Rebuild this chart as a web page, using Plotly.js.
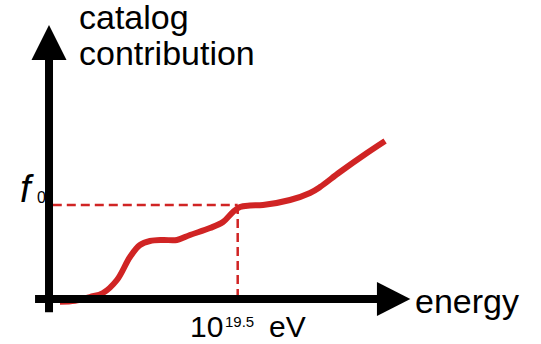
<!DOCTYPE html>
<html><head><meta charset="utf-8">
<script src="https://cdn.plot.ly/plotly-3.0.1.min.js"></script>
<style>html,body{margin:0;padding:0;background:#fff;}#chart{width:541px;height:344px;}</style>
</head><body><div id="chart"></div>
<script>
// Energy as log10(E / eV); contribution in units of f0
const logEnergy = [18.558, 18.638, 18.717, 18.786, 18.860, 18.929, 18.982, 19.035, 19.104, 19.178, 19.247, 19.353, 19.422, 19.475, 19.512, 19.565, 19.634, 19.777, 19.883, 19.936, 20.042, 20.185, 20.281];
const contribution = [-0.03, -0.02, 0.021, 0.064, 0.202, 0.447, 0.574, 0.617, 0.628, 0.628, 0.681, 0.755, 0.819, 0.926, 0.979, 0.995, 1.0, 1.053, 1.128, 1.191, 1.351, 1.553, 1.681];
const markerLogE = 19.5;
const f0Value = 1;
const yLabelLines = ['catalog', 'contribution'];
const xLabel = 'energy';
const markerLabel = ['10', '19.5', 'eV'];

const W = 541, H = 344;
const xr = [18.2403, 21.1073], yr = [-0.4787, 3.1809];
const RED = '#d02424';
const FONT = 'Liberation Sans, Arial, sans-serif';
const px = p => p / W, py = p => 1 - p / H;

function txt(text, left, baseline, size, extra) {
  return Object.assign({
    xref: 'paper', yref: 'paper', x: px(left), y: py(baseline - 0.35 * size),
    xanchor: 'left', yanchor: 'middle', showarrow: false, borderpad: 0,
    text: text, font: {family: FONT, size: size, color: '#000'}
  }, extra || {});
}

const axX0 = 18.5, axY0 = 0;
const shapes = [
  // dashed guides
  {type: 'line', x0: 18.52, x1: markerLogE, y0: f0Value, y1: f0Value, layer: 'below',
   line: {color: RED, width: 2.5, dash: '9px,5px'}},
  {type: 'line', x0: markerLogE, x1: markerLogE, y0: f0Value, y1: axY0, layer: 'below',
   line: {color: RED, width: 2.5, dash: '9px,5px'}},
  // y axis
  {type: 'line', x0: axX0, x1: axX0, y0: -0.14, y1: 2.56, layer: 'above', line: {color: '#000', width: 8}},
  {type: 'path', path: 'M 18.4073,2.543 L 18.5927,2.543 L 18.5,2.915 Z', fillcolor: '#000',
   line: {width: 0}, layer: 'above'},
  // x axis
  {type: 'line', x0: 18.426, x1: 20.245, y0: axY0, y1: axY0, layer: 'above', line: {color: '#000', width: 8}},
  {type: 'path', path: 'M 20.238,0.181 L 20.238,-0.181 L 20.415,0 Z', fillcolor: '#000',
   line: {width: 0}, layer: 'above'}
];

const annotations = [
  txt(yLabelLines[0], 78, 29, 34),
  txt(yLabelLines[1], 78, 65, 34),
  txt(xLabel, 414, 313, 34),
  txt('<i>f</i>', 19, 202, 38),
  txt(String(0), 36, 203, 16),
  txt(markerLabel[0], 189, 337, 30),
  txt(markerLabel[1], 224, 326.5, 15),
  txt(markerLabel[2], 268, 337, 30)
];

Plotly.newPlot('chart', [{
  x: logEnergy, y: contribution, type: 'scatter', mode: 'lines',
  line: {color: RED, width: 6, shape: 'spline', smoothing: 1},
  hoverinfo: 'skip'
}], {
  width: W, height: H, margin: {l: 0, r: 0, t: 0, b: 0},
  paper_bgcolor: '#fff', plot_bgcolor: '#fff', showlegend: false,
  xaxis: {range: xr, visible: false, fixedrange: true},
  yaxis: {range: yr, visible: false, fixedrange: true},
  shapes: shapes, annotations: annotations
}, {staticPlot: true, displayModeBar: false});
</script></body></html>
